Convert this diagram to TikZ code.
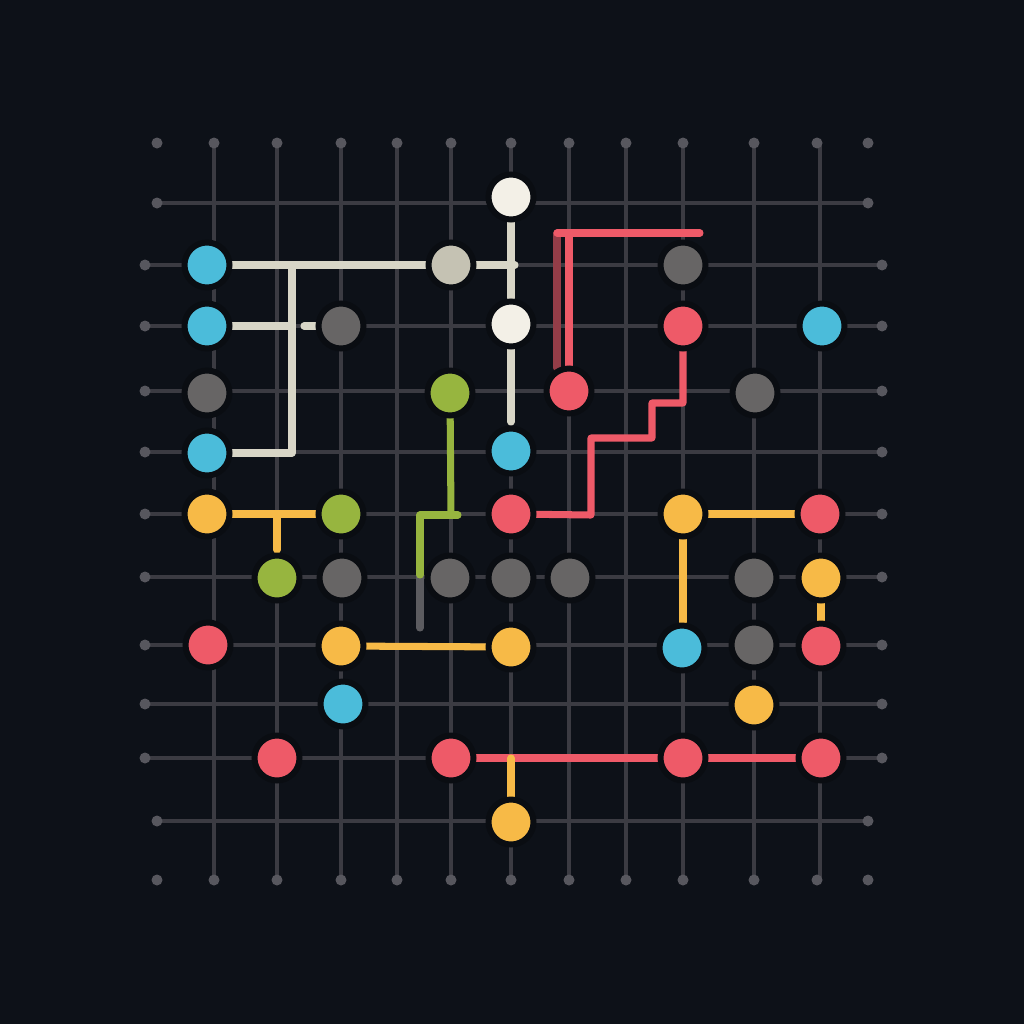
\documentclass[tikz,border=0pt]{standalone}
\usetikzlibrary{backgrounds}
\pgfdeclarelayer{bottom}
\pgfsetlayers{bottom,background,main}
\definecolor{bgc}{HTML}{0D1118}
\definecolor{gridc}{HTML}{3B3B42}
\definecolor{dotc}{HTML}{57575E}
\definecolor{cblue}{HTML}{4BBCDA}
\definecolor{cgray}{HTML}{676565}
\definecolor{cwhite}{HTML}{F3F0E7}
\definecolor{cbeige}{HTML}{C5C2B3}
\definecolor{cline}{HTML}{D8D6C7}
\definecolor{cgreen}{HTML}{97B53F}
\definecolor{cred}{HTML}{EE5A68}
\definecolor{cyellow}{HTML}{F7BA47}
\definecolor{cstub}{HTML}{5C5C60}
\definecolor{halo}{HTML}{0A0D12}
\tikzset{
  dotnode/.style={circle,minimum size=45*0.01cm,inner sep=0pt,draw=halo,line width=1.7pt},
  gridline/.style={draw=gridc,line width=1.4pt},
  griddot/.style={fill=dotc},
  conn/.style={line width=2pt,line cap=round,line join=round},
}
\begin{document}
\begin{tikzpicture}[x=0.01cm,y=-0.01cm]
\begin{pgfonlayer}{bottom}
\fill[bgc] (0,0) rectangle (1024,1024);
\end{pgfonlayer}
\useasboundingbox (0,0) rectangle (1024,1024);
% nodes
\node[dotnode,fill=cwhite] (w1) at (511,197) {};
\node[dotnode,fill=cblue] (b1) at (207,265) {};
\node[dotnode,fill=cbeige] (be1) at (451,265) {};
\node[dotnode,fill=cgray] (g1) at (683,265) {};
\node[dotnode,fill=cblue] (b2) at (207,326) {};
\node[dotnode,fill=cgray] (g2) at (341,326) {};
\node[dotnode,fill=cwhite] (w2) at (511,324) {};
\node[dotnode,fill=cred] (r1) at (683,326) {};
\node[dotnode,fill=cblue] (b3) at (822,326) {};
\node[dotnode,fill=cgray] (g3) at (207,393) {};
\node[dotnode,fill=cgreen] (gr1) at (450,393) {};
\node[dotnode,fill=cred] (r2) at (569,391) {};
\node[dotnode,fill=cgray] (g4) at (755,393) {};
\node[dotnode,fill=cblue] (b4) at (207,453) {};
\node[dotnode,fill=cblue] (b5) at (511,451) {};
\node[dotnode,fill=cyellow] (y1) at (207,514) {};
\node[dotnode,fill=cgreen] (gr2) at (341,514) {};
\node[dotnode,fill=cred] (r3) at (511,514) {};
\node[dotnode,fill=cyellow] (y2) at (683,514) {};
\node[dotnode,fill=cred] (r4) at (820,514) {};
\node[dotnode,fill=cgreen] (gr3) at (277,578) {};
\node[dotnode,fill=cgray] (g5) at (342,578) {};
\node[dotnode,fill=cgray] (g6) at (450,578) {};
\node[dotnode,fill=cgray] (g7) at (511,578) {};
\node[dotnode,fill=cgray] (g8) at (570,578) {};
\node[dotnode,fill=cgray] (g9) at (754,578) {};
\node[dotnode,fill=cyellow] (y3) at (821,578) {};
\node[dotnode,fill=cred] (r5) at (208,645) {};
\node[dotnode,fill=cyellow] (y4) at (341,646) {};
\node[dotnode,fill=cyellow] (y5) at (511,647) {};
\node[dotnode,fill=cblue] (b6) at (682,648) {};
\node[dotnode,fill=cgray] (g10) at (754,645) {};
\node[dotnode,fill=cred] (r6) at (821,646) {};
\node[dotnode,fill=cblue] (b7) at (343,704) {};
\node[dotnode,fill=cyellow] (y6) at (754,705) {};
\node[dotnode,fill=cred] (r7) at (277,758) {};
\node[dotnode,fill=cred] (r8) at (451,758) {};
\node[dotnode,fill=cred] (r9) at (683,758) {};
\node[dotnode,fill=cred] (r10) at (821,758) {};
\node[dotnode,fill=cyellow] (y7) at (511,822) {};
% bend coordinates
\coordinate (ca) at (515,265);
\coordinate (cb) at (292,265);
\coordinate (cc) at (292,453);
\coordinate (cd) at (292,326);
\coordinate (ce) at (304,326);
\coordinate (cf) at (511,298);
\coordinate (cg) at (511,422);
\coordinate (ch) at (557,233);
\coordinate (ci) at (557,368);
\coordinate (cj) at (569,233);
\coordinate (ck) at (700,233);
\coordinate (rb1) at (683,403);
\coordinate (rb2) at (652,403);
\coordinate (rb3) at (652,438);
\coordinate (rb4) at (591,438);
\coordinate (rb5) at (591,515);
\coordinate (gb1) at (451,515);
\coordinate (gb2) at (458,515);
\coordinate (gb3) at (420,515);
\coordinate (gb4) at (420,575);
\coordinate (gb5) at (420,628);
\coordinate (yp) at (277,514);
\coordinate (yq) at (277,550);
\coordinate (yr) at (683,622);
\coordinate (ys) at (821,623);
\coordinate (yt) at (511,758);
\begin{pgfonlayer}{background}
% grid
\foreach \x in {214,277,341,397,451,511,569,626,683,754,820}
  \draw[gridline] (\x,143) -- (\x,880);
\draw[gridline] (157,203) -- (868,203);
\draw[gridline] (157,821) -- (868,821);
\foreach \y in {265,326,391,452,514,577,645,704,758}
  \draw[gridline] (145,\y) -- (882,\y);
\foreach \x in {157,214,277,341,397,451,511,569,626,683,754,817,868}{
  \fill[griddot] (\x,143) circle (5.5);
  \fill[griddot] (\x,880) circle (5.5);}
\foreach \y in {203,821}{
  \fill[griddot] (157,\y) circle (5.5);
  \fill[griddot] (868,\y) circle (5.5);}
\foreach \y in {265,326,391,452,514,577,645,704,758}{
  \fill[griddot] (145,\y) circle (5.5);
  \fill[griddot] (882,\y) circle (5.5);}
% beige / white connectors
\draw[conn,cline] (b1.center) -- (be1.center) -- (ca);
\draw[conn,cline] (cb) -- (cc) -- (b4.center);
\draw[conn,cline] (b2.center) -- (cd);
\draw[conn,cline] (ce) -- (g2.center);
\draw[conn,cline] (w1.center) -- (cf);
\draw[conn,cline] (w2.center) -- (cg);
% red connectors
\draw[conn,cred!60!bgc] (ci) -- (ch);
\draw[conn,cred] (ch) -- (ck);
\draw[conn,cred] (cj) -- (r2.center);
\draw[conn,cred] (r1.center) -- (rb1) -- (rb2) -- (rb3) -- (rb4) -- (rb5) -- (r3.center);
\draw[conn,cred] (r8.center) -- (r9.center) -- (r10.center);
% green connectors
\draw[conn,cstub] (gb4) -- (gb5);
\draw[conn,cgreen] (gr1.center) -- (gb1);
\draw[conn,cgreen] (gb2) -- (gb3) -- (gb4);
% yellow connectors
\draw[conn,cyellow] (y1.center) -- (gr2.center);
\draw[conn,cyellow] (yp) -- (yq);
\draw[conn,cyellow] (y4.center) -- (y5.center);
\draw[conn,cyellow] (y2.center) -- (r4.center);
\draw[conn,cyellow] (y2.center) -- (yr);
\draw[conn,cyellow] (y3.center) -- (ys);
\draw[conn,cyellow] (yt) -- (y7.center);
\end{pgfonlayer}
\end{tikzpicture}
\end{document}
